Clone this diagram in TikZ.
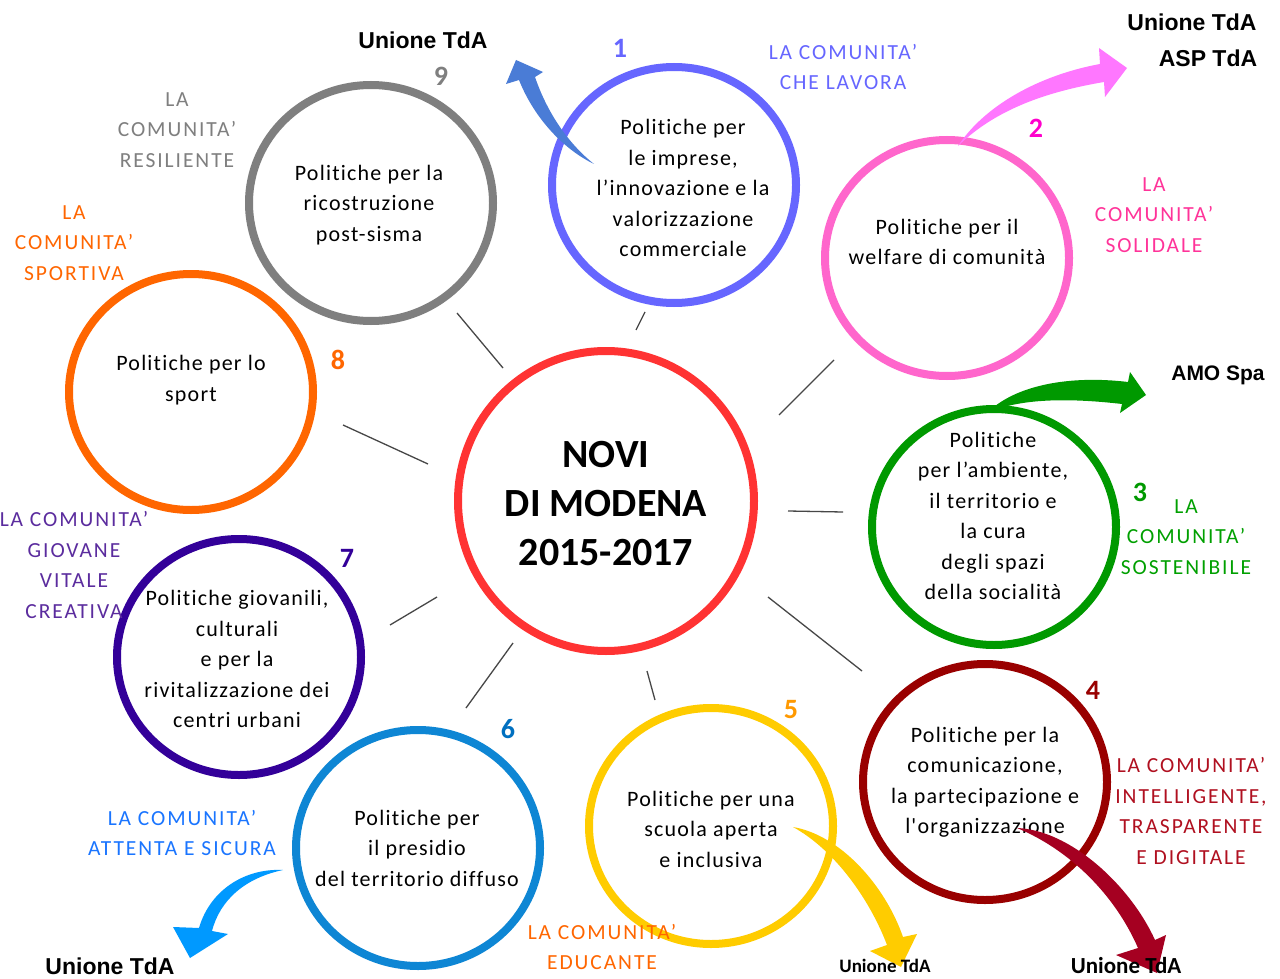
\documentclass[tikz,border=0pt]{standalone}
\usepackage{fontspec}
\setmainfont{Carlito}
\newfontfamily\arialfont{Liberation Sans}
\newfontfamily\spacedfont{Carlito}[LetterSpace=5.5,RawFeature=-liga]
\newfontfamily\labfont{Carlito}[LetterSpace=9,RawFeature=-liga]
\usetikzlibrary{shapes.geometric}
\definecolor{cOne}{HTML}{6666FF}
\definecolor{cTwo}{HTML}{FF66CC}
\definecolor{cThree}{HTML}{009900}
\definecolor{cFour}{HTML}{990000}
\definecolor{cFive}{HTML}{FFCC00}
\definecolor{cSix}{HTML}{0E86D4}
\definecolor{cSeven}{HTML}{330099}
\definecolor{cEight}{HTML}{FF6600}
\definecolor{cNine}{HTML}{7F7F7F}
\definecolor{cMid}{HTML}{FF3333}
\definecolor{aOne}{HTML}{4A7CD6}
\definecolor{aTwo}{HTML}{FF77FF}
\definecolor{aFour}{HTML}{A50021}
\definecolor{aSix}{HTML}{0099FF}
\definecolor{nTwo}{HTML}{FF00CC}
\definecolor{nFive}{HTML}{FF9900}
\definecolor{nSix}{HTML}{0070C0}
\definecolor{lTwo}{HTML}{FF3399}
\definecolor{lThree}{HTML}{00A000}
\definecolor{lFour}{HTML}{B01020}
\definecolor{lSix}{HTML}{1A75FF}
\definecolor{lSeven}{HTML}{5B2C9E}
\tikzset{
  polcircle/.style={ellipse, draw=#1, line width=8pt, minimum width=244pt, minimum height=236pt, inner sep=0pt},
  ctext/.style={font=\spacedfont\fontsize{22}{30.5}\selectfont, align=center, text=black, inner sep=0pt},
  lab/.style={font=\labfont\fontsize{21.5}{30.5}\selectfont, align=center, text=#1, inner sep=0pt},
  num/.style={font=\fontsize{28}{30}\selectfont\bfseries, text=#1, inner sep=0pt},
  org/.style={font=\arialfont\bfseries\fontsize{23}{28}\selectfont, inner sep=0pt},
  orgc/.style={font=\bfseries\fontsize{#1}{28}\selectfont, inner sep=0pt},
  link/.style={draw=black!72, line width=1.3pt},
}
\begin{document}
\begin{tikzpicture}[x=1pt,y=-1pt]
\useasboundingbox (0,0) rectangle (1280,979);
\fill[white] (0,0) rectangle (1280,979);

% circles
\node[polcircle=cMid, minimum width=296pt, minimum height=300pt] (mid) at (606,501) {};
\node[polcircle=cOne] (c1) at (674,185) {};
\node[polcircle=cTwo] (c2) at (947,258) {};
\node[polcircle=cThree] (c3) at (994,527) {};
\node[polcircle=cFour] (c4) at (985,782) {};
\node[polcircle=cFive] (c5) at (711,826) {};
\node[polcircle=cSix] (c6) at (418,848) {};
\node[polcircle=cSeven] (c7) at (239,657) {};
\node[polcircle=cEight] (c8) at (191,392) {};
\node[polcircle=cNine] (c9) at (371,203) {};

% connectors
\coordinate (m1) at (636,330); \coordinate (e1) at (645,312);
\coordinate (m2) at (779,415); \coordinate (e2) at (834,360);
\coordinate (m3) at (788,511); \coordinate (e3) at (843,512);
\coordinate (m4) at (768,597); \coordinate (e4) at (862,671);
\coordinate (m5) at (647,671); \coordinate (e5) at (655,700);
\coordinate (m6) at (513,643); \coordinate (e6) at (466,708);
\coordinate (m7) at (437,597); \coordinate (e7) at (390,625);
\coordinate (m8) at (428,464); \coordinate (e8) at (343,425);
\coordinate (m9) at (503,368); \coordinate (e9) at (457,313);
\foreach \i in {1,...,9} { \draw[link] (m\i) -- (e\i); }

% texts in circles
\node[font=\bfseries\fontsize{40}{49}\selectfont, align=center, inner sep=0pt] (tmid) at (606,504) {NOVI\\DI MODENA\\2015-2017};
\node[ctext] (t1) at (683,188) {Politiche per\\le imprese,\\l’innovazione e la\\valorizzazione\\commerciale};
\node[ctext] (t2) at (947,242) {Politiche per il\\welfare di comunità};
\node[ctext] (t3) at (993,516) {Politiche\\per l’ambiente,\\il territorio e\\la cura\\degli spazi\\della socialità};
\node[ctext] (t4) at (985,782) {Politiche per la\\comunicazione,\\la partecipazione e\\l'organizzazione};
\node[ctext] (t5) at (711,829) {Politiche per una\\scuola aperta\\e inclusiva};
\node[ctext] (t6) at (417,848) {Politiche per\\il presidio\\del territorio diffuso};
\node[ctext] (t7) at (237,659) {Politiche giovanili,\\culturali\\e per la\\rivitalizzazione dei\\centri urbani};
\node[ctext] (t8) at (191,380) {Politiche per lo\\sport};
\node[ctext] (t9) at (369,205) {Politiche per la\\ricostruzione\\post-sisma};

% numbers
\node[num=cOne] (n1) at (620,48) {1};
\node[num=nTwo] (n2) at (1036,128) {2};
\node[num=cThree] (n3) at (1140,492) {3};
\node[num=cFour] (n4) at (1093,690) {4};
\node[num=nFive] (n5) at (791,710) {5};
\node[num=nSix] (n6) at (508,729) {6};
\node[num=cSeven] (n7) at (347,558) {7};
\node[num=cEight] (n8) at (338,360) {8};
\node[num=cNine] (n9) at (441,76) {9};

% community labels
\node[lab=cOne] (l1) at (843,67) {LA COMUNITA’\\CHE LAVORA};
\node[lab=lTwo] (l2) at (1154,215) {LA\\COMUNITA’\\SOLIDALE};
\node[lab=lThree] (l3) at (1186,537) {LA\\COMUNITA’\\SOSTENIBILE};
\node[lab=lFour] (l4) at (1191,811) {LA COMUNITA’\\INTELLIGENTE,\\TRASPARENTE\\E DIGITALE};
\node[lab=cEight] (l5) at (602,947) {LA COMUNITA’\\EDUCANTE};
\node[lab=lSix] (l6) at (182,833) {LA COMUNITA’\\ATTENTA E SICURA};
\node[lab=lSeven] (l7) at (74,565) {LA COMUNITA’\\GIOVANE\\VITALE\\CREATIVA};
\node[lab=cEight] (l8) at (74,243) {LA\\COMUNITA’\\SPORTIVA};
\node[lab=cNine] (l9) at (177,130) {LA\\COMUNITA’\\RESILIENTE};

% block arrows
\fill[aOne] (594,164) .. controls (565,150) and (535,120) .. (519,80)
  -- (506,84) -- (516,60) -- (543,72) -- (535,77)
  .. controls (548,115) and (570,145) .. (594,164) -- cycle;
\fill[aTwo] (958,146) .. controls (985,105) and (1040,75) .. (1100,64)
  -- (1099,48) -- (1127,68) -- (1105,97) -- (1104,82)
  .. controls (1045,92) and (995,110) .. (958,146) -- cycle;
\fill[cThree] (987,413) .. controls (1015,385) and (1070,375) .. (1128,382)
  -- (1130,372) -- (1146,395) -- (1120,413) -- (1122,404)
  .. controls (1070,398) and (1020,398) .. (987,413) -- cycle;
\fill[cFive] (793,827) .. controls (840,835) and (885,885) .. (903,937)
  -- (917,934) -- (901,967) -- (870,951) -- (887,945)
  .. controls (870,900) and (835,850) .. (793,827) -- cycle;
\fill[aFour] (1017,828) .. controls (1070,830) and (1130,885) .. (1155,940)
  -- (1166,935) -- (1157,973) -- (1116,955) -- (1138,948)
  .. controls (1115,895) and (1070,850) .. (1017,828) -- cycle;
\fill[aSix] (283,870) .. controls (245,868) and (210,890) .. (199,928)
  -- (173,927) -- (190,958) -- (228,934) -- (212,931)
  .. controls (220,900) and (245,878) .. (283,870) -- cycle;

% organisations
\node[org] (o9) at (423,40) {Unione TdA};
\node[org] (o2a) at (1192,22) {Unione TdA};
\node[org] (o2b) at (1208,58) {ASP TdA};
\node[org, font=\arialfont\bfseries\fontsize{21}{28}\selectfont] (o3) at (1218,375) {AMO Spa};
\node[org] (o6) at (110,966) {Unione TdA};
\node[orgc=19] (o5) at (885,966) {Unione TdA};
\node[orgc=23] (o4) at (1126,966) {Unione TdA};
\end{tikzpicture}
\end{document}
